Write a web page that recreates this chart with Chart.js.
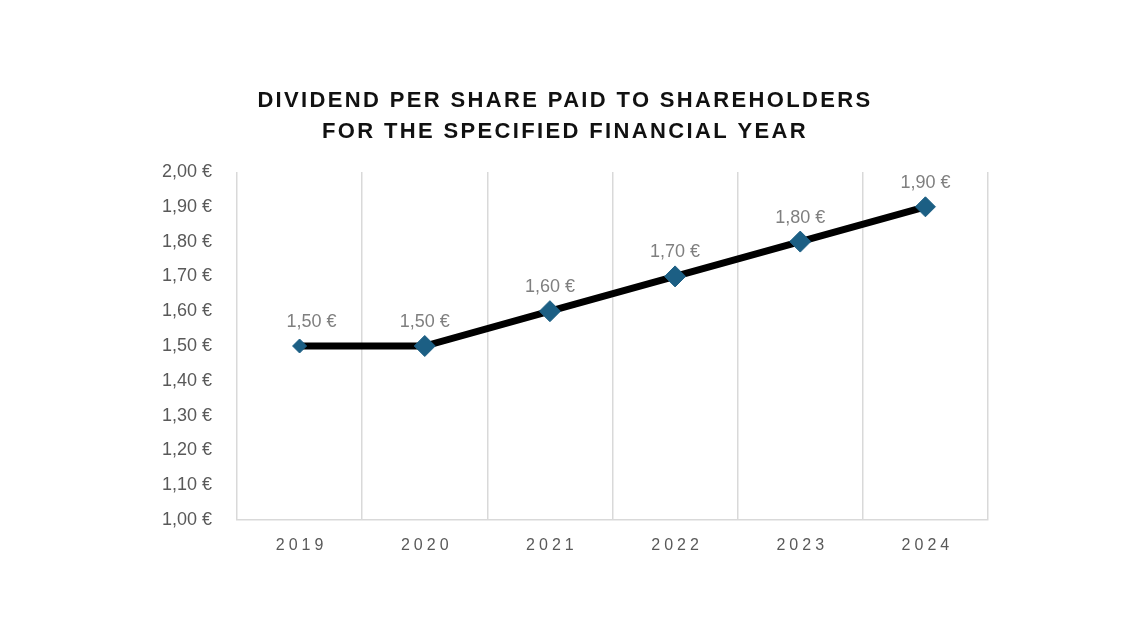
<!DOCTYPE html>
<html>
<head>
<meta charset="utf-8">
<script src="https://cdn.jsdelivr.net/npm/chart.js@4.4.0/dist/chart.umd.min.js"></script>
<style>
  html, body { margin: 0; padding: 0; background: #fff; }
  #wrap { width: 1130px; height: 636px; }
</style>
</head>
<body>
<div id="wrap"><canvas id="dividend"></canvas></div>
<script>
var years = ['2019', '2020', '2021', '2022', '2023', '2024'];
var dividend = [1.50, 1.50, 1.60, 1.70, 1.80, 1.90];
var markerSize = [7, 10.5, 10.5, 10.5, 10.5, 10];
var titleLines = ['DIVIDEND PER SHARE PAID TO SHAREHOLDERS', 'FOR THE SPECIFIED FINANCIAL YEAR'];

function euro(v) {
  return v.toFixed(2).replace('.', ',') + ' €';
}

// title, x labels (letter spaced) and value labels
var extraText = {
  id: 'extraText',
  afterDraw: function (chart, args, opts) {
    var ctx = chart.ctx;
    var area = chart.chartArea;
    ctx.save();
    ctx.textAlign = 'center';
    ctx.textBaseline = 'middle';

    ctx.fillStyle = '#111';
    ctx.font = 'bold 22px "Liberation Sans", Arial, sans-serif';
    ctx.letterSpacing = '2.35px';
    ctx.fillText(titleLines[0], 565, 101);
    ctx.fillText(titleLines[1], 565, 132);

    var xs = chart.scales.x;
    ctx.fillStyle = '#595959';
    ctx.font = '16px "Liberation Sans", Arial, sans-serif';
    ctx.letterSpacing = '4px';
    years.forEach(function (y, i) {
      ctx.fillText(y, xs.getPixelForTick(i) + 2, area.bottom + 26);
    });

    ctx.fillStyle = '#7f7f7f';
    ctx.font = '18px "Liberation Sans", Arial, sans-serif';
    ctx.letterSpacing = '0px';
    chart.getDatasetMeta(0).data.forEach(function (pt, i) {
      var dx = i === 0 ? opts.firstShift : 0;
      ctx.fillText(euro(dividend[i]), pt.x + dx, pt.y - 24);
    });
    ctx.restore();
  }
};

new Chart(document.getElementById('dividend').getContext('2d'), {
  type: 'line',
  data: {
    labels: years,
    datasets: [{
      data: dividend,
      borderColor: '#000',
      borderWidth: 7,
      tension: 0,
      pointStyle: 'rectRot',
      pointRadius: markerSize,
      pointHoverRadius: markerSize,
      pointBackgroundColor: '#1c5f84',
      pointBorderColor: '#1c5f84',
      pointBorderWidth: 1
    }]
  },
  options: {
    responsive: true,
    maintainAspectRatio: false,
    animation: false,
    layout: { padding: { top: 172, right: 142, left: 0, bottom: 0 } },
    plugins: {
      legend: { display: false },
      tooltip: { enabled: false },
      extraText: { firstShift: 12 }
    },
    scales: {
      x: {
        offset: true,
        grid: { offset: true, color: '#d9d9d9', lineWidth: 1.5, drawTicks: false },
        border: { color: '#d9d9d9', width: 1.5 },
        ticks: { color: 'rgba(0,0,0,0)', font: { size: 16 } },
        afterFit: function (s) { s.height = 116; }
      },
      y: {
        min: 1,
        max: 2,
        grid: { display: false, drawTicks: false },
        border: { display: false },
        ticks: {
          stepSize: 0.1,
          padding: 25,
          color: '#595959',
          font: { size: 18, family: '"Liberation Sans", Arial, sans-serif' },
          callback: function (v) { return euro(v); }
        },
        afterFit: function (s) { s.width = 237; }
      }
    }
  },
  plugins: [extraText]
});
</script>
</body>
</html>
